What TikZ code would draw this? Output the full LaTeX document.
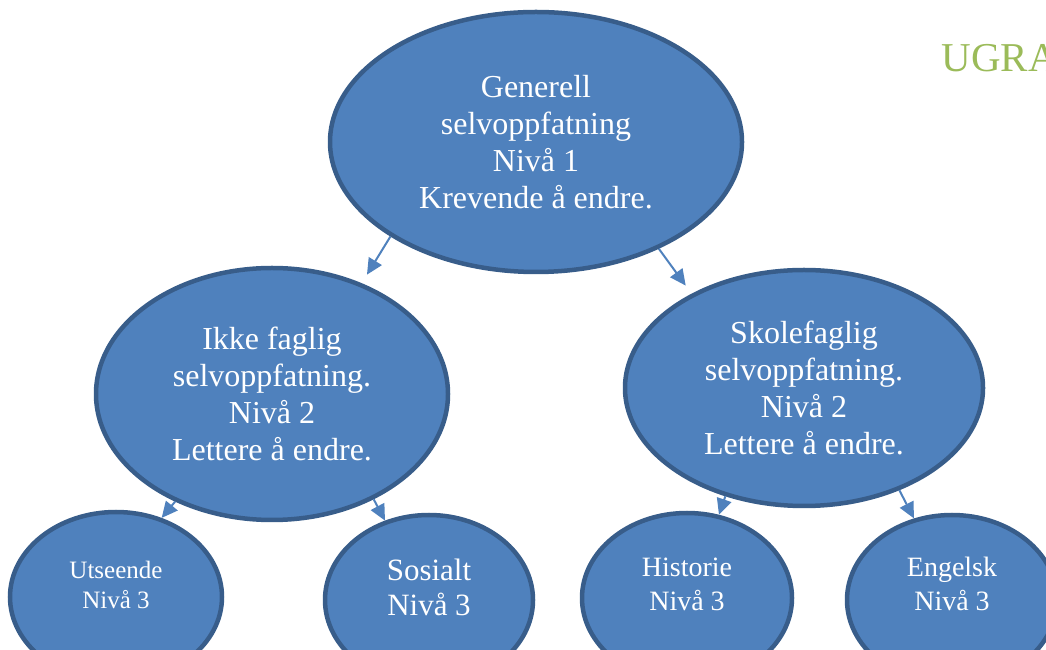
\documentclass[tikz,border=0pt]{standalone}
\usepackage{fontspec}
\setmainfont{Liberation Serif}
\usetikzlibrary{shapes.geometric,arrows.meta}

\definecolor{blobfill}{HTML}{4F81BD}
\definecolor{blobline}{HTML}{385D8A}
\definecolor{ugragreen}{HTML}{9BBB59}

\begin{document}
\begin{tikzpicture}[x=1pt,y=1pt,
    blob/.style={ellipse,draw=blobline,fill=blobfill,line width=4.5pt,inner sep=0pt,
                 text=white,align=center,font=\fontsize{32}{37}\selectfont},
    leaftext/.style={text=white,align=center,inner sep=0pt},
    link/.style={blobfill,line width=2pt,-{Triangle[length=16pt,width=15pt]}}]
  \useasboundingbox (0,0) rectangle (1046,650);
  \clip (0,0) rectangle (1046,650);
  \node[anchor=base west,text=ugragreen,font=\fontsize{41}{45}\selectfont] (ugra) at (938,578) {UGRA};
  % top and middle level
  \node[blob,minimum width=412pt,minimum height=260pt] (gen) at (536,508)
      {Generell\\selvoppfatning\\Nivå 1\\Krevende å endre.};
  \node[blob,minimum width=352pt,minimum height=252pt] (ikke) at (272,256)
      {Ikke faglig\\selvoppfatning.\\Nivå 2\\Lettere å endre.};
  \node[blob,minimum width=358pt,minimum height=236pt] (skole) at (804,262)
      {Skolefaglig\\selvoppfatning.\\Nivå 2\\Lettere å endre.};
  % bottom level
  \node[blob,minimum width=212pt,minimum height=170pt] (utseende) at (116,53) {};
  \node[blob,minimum width=208pt,minimum height=170pt] (sosialt) at (429,50) {};
  \node[blob,minimum width=210pt,minimum height=170pt] (historie) at (687,52) {};
  \node[blob,minimum width=210pt,minimum height=170pt] (engelsk) at (952,50) {};
  \node[leaftext,font=\fontsize{25}{30}\selectfont] (utseende-t) at ([yshift=12pt]utseende.center) {Utseende\\Nivå 3};
  \node[leaftext,font=\fontsize{31}{35}\selectfont] (sosialt-t) at ([yshift=13pt]sosialt.center) {Sosialt\\Nivå 3};
  \node[leaftext,font=\fontsize{28}{34}\selectfont] (historie-t) at ([yshift=14pt]historie.center) {Historie\\Nivå 3};
  \node[leaftext,font=\fontsize{28}{34}\selectfont] (engelsk-t) at ([yshift=16pt]engelsk.center) {Engelsk\\Nivå 3};
  % arrows
  \draw[link,shorten >=10pt] (gen.213) -- (ikke.51);
  \draw[link,shorten >=10pt] (gen.319) -- (skole.140);
  \draw[link] (ikke.228) -- (utseende.60);
  \draw[link] (ikke.314) -- (sosialt.119);
  \draw[link] (skole.234) -- (historie.69);
  \draw[link] (skole.313) -- (engelsk.115);
\end{tikzpicture}
\end{document}
